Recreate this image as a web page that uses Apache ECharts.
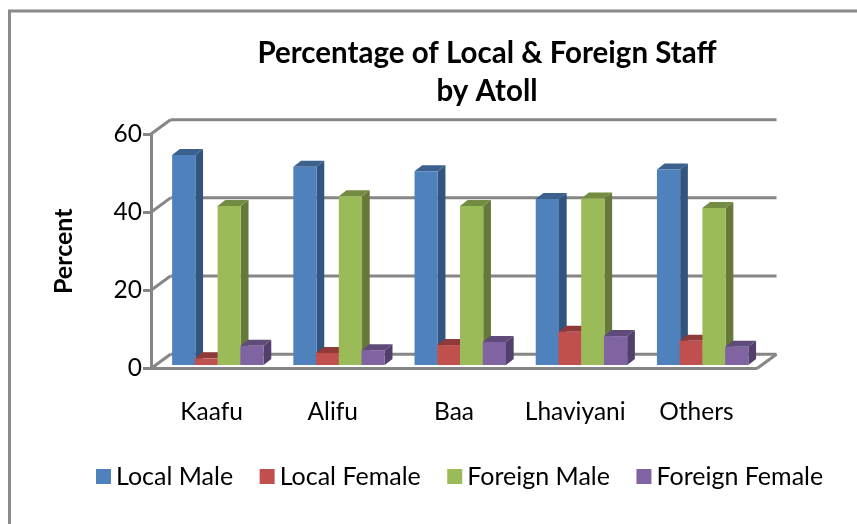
<!DOCTYPE html>
<html><head><meta charset="utf-8">
<style>html,body{margin:0;padding:0;background:#fff}#c{width:857px;height:524px}</style>
<script src="https://cdn.jsdelivr.net/npm/echarts@6/dist/echarts.min.js"></script>
</head><body><div id="c"></div>
<script>
const categories = ['Kaafu','Alifu','Baa','Lhaviyani','Others'];
const localMale = [53.7,50.7,49.6,42.5,50.0];
const localFemale = [1.7,3.1,5.1,8.5,6.2];
const foreignMale = [40.7,43.2,40.7,42.6,40.2];
const foreignFemale = [4.9,3.8,5.9,7.4,4.7];
const yTicks = [0,20,40,60];
const seriesNames = ['Local Male','Local Female','Foreign Male','Foreign Female'];
const seriesValues = [localMale,localFemale,foreignMale,foreignFemale];
const fronts = ['#4f81bd','#c0504d','#9bbb59','#8064a2'];
const sides = ['#31557f','#7d3331','#66793a','#533f6c'];
const tops = ['#3c618f','#8f3a38','#748c42','#5f4b7a'];
const fontName = 'Lato';
const GRID = '#868686';
const WALL = [19.5,-14.3], BAR_OFF = [6,-3.5], DEPTH = [7.7,-6], BAR_FRAC = 0.1876;

function barItem(si){
  return function(params, api){
    const i = api.value(0), v = api.value(1);
    const band = api.size([1,0])[0];
    const w = band*BAR_FRAC;
    const c0 = api.coord([i,0]), c1 = api.coord([i,v]);
    const x0 = c0[0]+(si-2)*w+BAR_OFF[0], x1 = x0+w+0.5;
    const yb = c0[1]+BAR_OFF[1], yt = c1[1]+BAR_OFF[1];
    const dx = DEPTH[0], dy = DEPTH[1];
    return {type:'group',children:[
      {type:'polygon',shape:{points:[[x1,yb],[x1+dx,yb+dy],[x1+dx,yt+dy],[x1,yt]]},style:{fill:sides[si]}},
      {type:'polygon',shape:{points:[[x0,yt],[x0+dx,yt+dy],[x1+dx,yt+dy],[x1,yt]]},style:{fill:tops[si]}},
      {type:'rect',shape:{x:x0,y:yt,width:x1-x0,height:yb-yt},style:{fill:fronts[si]}}
    ]};
  };
}
function wallItem(params, api){
  const t = api.value(0);
  const band = api.size([1,0])[0];
  const a = api.coord([0,t]);
  const x0 = a[0]-band/2, x1 = x0+band*categories.length, y = a[1];
  const ln = (p,q)=>({type:'line',shape:{x1:p[0],y1:p[1],x2:q[0],y2:q[1]},style:{stroke:GRID,lineWidth:3,fill:null}});
  const kids = [
    ln([x0+WALL[0],y+WALL[1]],[x1+WALL[0],y+WALL[1]]),
    ln([x0,y],[x0+WALL[0],y+WALL[1]])
  ];
  if(t===0){
    kids.push(ln([x0,y],[x1,y]));
    kids.push(ln([x1,y],[x1+WALL[0],y+WALL[1]]));
  }
  return {type:'group',children:kids};
}
const series = [{
  type:'custom',name:'walls',renderItem:wallItem,silent:true,z:1,
  data:yTicks.map(t=>[t]),encode:{y:0},legendHoverLink:false
}].concat(seriesNames.map((n,si)=>({
  type:'custom',name:n,renderItem:barItem(si),z:2+si,
  itemStyle:{color:fronts[si]},
  data:seriesValues[si].map((v,i)=>[i,v]),encode:{x:0,y:1}
})));
const chart = echarts.init(document.getElementById('c'),null,{renderer:'canvas'});
chart.setOption({
  animation:false,backgroundColor:'#fff',
  title:{text:'Percentage of Local & Foreign Staff\nby Atoll',left:482,top:29,textAlign:'center',
    textStyle:{fontFamily:fontName,fontWeight:'bold',fontSize:29.5,lineHeight:38,color:'#000'}},
  legend:{data:seriesNames,left:91,top:459,itemWidth:15,itemHeight:15,itemGap:26.5,icon:'rect',
    textStyle:{fontFamily:fontName,fontSize:25,color:'#000'}},
  grid:{left:151,top:134,width:606,height:234.5,containLabel:false},
  xAxis:{type:'category',data:categories,axisLine:{show:false},axisTick:{show:false},
    axisLabel:{margin:31,interval:0,hideOverlap:false,fontFamily:fontName,fontSize:24.5,color:'#000'}},
  yAxis:{type:'value',min:0,max:60,interval:20,name:'Percent',nameLocation:'middle',nameGap:75,
    nameTextStyle:{fontFamily:fontName,fontWeight:'bold',fontSize:25,color:'#000'},
    axisLine:{show:true,lineStyle:{color:GRID,width:3}},
    axisTick:{show:true,length:8,lineStyle:{color:GRID,width:3}},
    splitLine:{show:false},
    axisLabel:{margin:9,padding:[6,0,0,0],fontFamily:fontName,fontSize:24.5,color:'#000'}},
  graphic:[{type:'polyline',silent:true,shape:{points:[[9.5,524],[9.5,11],[857,11]]},style:{stroke:'#8a8a8a',lineWidth:3,fill:null}}],
  series:series
});
</script></body></html>
